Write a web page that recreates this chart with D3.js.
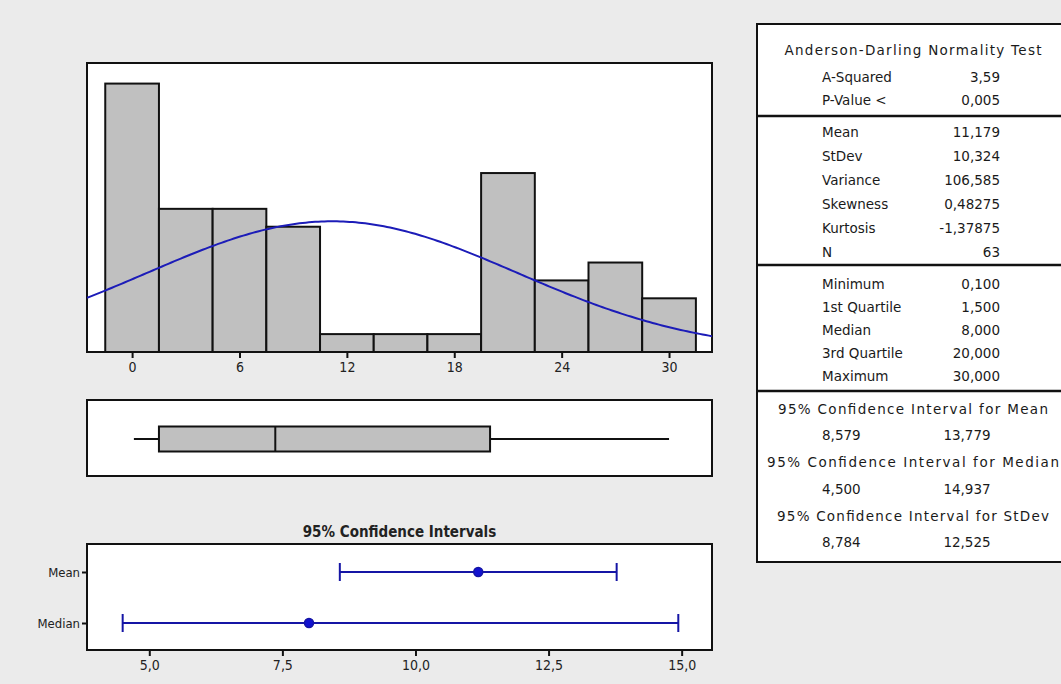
<!DOCTYPE html>
<html>
<head>
<meta charset="utf-8">
<script src="https://cdn.jsdelivr.net/npm/d3@7"></script>
<style>
  body { margin: 0; background: #ebebeb; }
  svg { display: block; }
  .tick-lbl { font-family: "Liberation Sans Narrow", "DejaVu Sans Condensed", sans-serif; font-size: 14px; fill: #222; }
  .tbl { font-family: "DejaVu Sans", Verdana, sans-serif; font-size: 13.5px; fill: #1a1a1a; }
</style>
</head>
<body>
<svg id="vis" width="1061" height="684"></svg>
<script>
// histogram bins (width 3, centred on 0, 3, ... 30)
const binCenters = [0, 3, 6, 9, 12, 15, 18, 21, 24, 27, 30];
const binCounts = [15, 8, 8, 7, 1, 1, 1, 10, 4, 5, 3];
const binWidth = 3;
const histTicks = [0, 6, 12, 18, 24, 30];

// fitted normal
const sampleMean = 11.179;
const sampleSd = 10.324;
const sampleN = 63;

// boxplot: min, Q1, median, Q3, max
const boxStats = [0.1, 1.5, 8.0, 20.0, 30.0];

// 95% confidence intervals plot
const ciNames = ["Mean", "Median"];
const ciPoint = [11.179, 8.0];
const ciLow = [8.579, 4.5];
const ciHigh = [13.779, 14.937];
const ciTicks = [5, 7.5, 10, 12.5, 15];

// summary table
const adLabels = ["A-Squared", "P-Value <"];
const adValues = ["3,59", "0,005"];
const descLabels = ["Mean", "StDev", "Variance", "Skewness", "Kurtosis", "N"];
const descValues = ["11,179", "10,324", "106,585", "0,48275", "-1,37875", "63"];
const quantLabels = ["Minimum", "1st Quartile", "Median", "3rd Quartile", "Maximum"];
const quantValues = ["0,100", "1,500", "8,000", "20,000", "30,000"];
const ciTitles = ["95% Confidence Interval for Mean", "95% Confidence Interval for Median", "95% Confidence Interval for StDev"];
const ciTblLow = ["8,579", "4,500", "8,784"];
const ciTblHigh = ["13,779", "14,937", "12,525"];

const svg = d3.select("svg#vis");
const fmt = d => d.toFixed(1).replace(".", ",");

// ---------- histogram ----------
let hist = { left: 87, right: 712, top: 63, bottom: 352 };

let xHist = d3.scaleLinear()
    .domain([-2.52, 32.4])
    .range([hist.left, hist.right]);

let yHist = d3.scaleLinear()
    .domain([0, 16.15])
    .range([hist.bottom, hist.top]);

svg.append("rect")
    .attr("x", hist.left).attr("y", hist.top)
    .attr("width", hist.right - hist.left).attr("height", hist.bottom - hist.top)
    .attr("fill", "white").attr("stroke", "#111").attr("stroke-width", 2);

svg.append("clipPath").attr("id", "histclip")
    .append("rect")
    .attr("x", hist.left).attr("y", hist.top)
    .attr("width", hist.right - hist.left).attr("height", hist.bottom - hist.top);

svg.append("g").selectAll("rect")
    .data(binCenters)
    .enter()
    .append("rect")
    .attr("x", d => xHist(d - binWidth / 2))
    .attr("width", d => xHist(d + binWidth / 2) - xHist(d - binWidth / 2))
    .attr("y", (d, i) => yHist(binCounts[i]))
    .attr("height", (d, i) => yHist(0) - yHist(binCounts[i]))
    .attr("fill", "#c0c0c0")
    .attr("stroke", "#111")
    .attr("stroke-width", 2);

// normal curve scaled to counts
let curvePts = d3.range(0, 201).map(i => {
    let x = xHist.domain()[0] + i * (xHist.domain()[1] - xHist.domain()[0]) / 200;
    let z = (x - sampleMean) / sampleSd;
    let dens = Math.exp(-0.5 * z * z) / (sampleSd * Math.sqrt(2 * Math.PI));
    return [x, dens * sampleN * binWidth];
});

svg.append("path")
    .attr("clip-path", "url(#histclip)")
    .attr("d", d3.line().x(d => xHist(d[0])).y(d => yHist(d[1]))(curvePts))
    .attr("fill", "none")
    .attr("stroke", "#1c1cb8")
    .attr("stroke-width", 2);

let xAxisHist = d3.axisBottom(xHist).tickValues(histTicks).tickSize(5).tickSizeOuter(0).tickPadding(4);
let gx = svg.append("g")
    .attr("transform", "translate(0," + (hist.bottom + 1) + ")")
    .call(xAxisHist);
gx.select(".domain").remove();
gx.selectAll("line").attr("stroke", "#111").attr("stroke-width", 2);
gx.selectAll("text").attr("class", "tick-lbl").attr("font-size", null).attr("font-family", null).attr("fill", null);

// ---------- boxplot ----------
let bp = { top: 400, bottom: 476, mid: 439, h: 25 };

svg.append("rect")
    .attr("x", hist.left).attr("y", bp.top)
    .attr("width", hist.right - hist.left).attr("height", bp.bottom - bp.top)
    .attr("fill", "white").attr("stroke", "#111").attr("stroke-width", 2);

let gb = svg.append("g").attr("stroke", "#111").attr("stroke-width", 2);
gb.append("line")
    .attr("x1", xHist(boxStats[0])).attr("x2", xHist(boxStats[1]))
    .attr("y1", bp.mid).attr("y2", bp.mid);
gb.append("line")
    .attr("x1", xHist(boxStats[3])).attr("x2", xHist(boxStats[4]))
    .attr("y1", bp.mid).attr("y2", bp.mid);
gb.append("rect")
    .attr("x", xHist(boxStats[1])).attr("width", xHist(boxStats[3]) - xHist(boxStats[1]))
    .attr("y", bp.mid - bp.h / 2).attr("height", bp.h)
    .attr("fill", "#c0c0c0");
gb.append("line")
    .attr("x1", xHist(boxStats[2])).attr("x2", xHist(boxStats[2]))
    .attr("y1", bp.mid - bp.h / 2).attr("y2", bp.mid + bp.h / 2);

// ---------- confidence interval plot ----------
let ci = { left: 87, right: 712, top: 544, bottom: 650 };

let xCi = d3.scaleLinear()
    .domain([3.83, 15.57])
    .range([ci.left, ci.right]);

let yCi = d3.scalePoint()
    .domain(ciNames)
    .range([572, 623]);

svg.append("text")
    .attr("x", (ci.left + ci.right) / 2)
    .attr("y", 537)
    .attr("text-anchor", "middle")
    .attr("font-family", "'DejaVu Sans Condensed', 'Liberation Sans Narrow', sans-serif")
    .attr("font-weight", "bold")
    .attr("font-size", 15)
    .attr("fill", "#222")
    .text("95% Confidence Intervals");

svg.append("rect")
    .attr("x", ci.left).attr("y", ci.top)
    .attr("width", ci.right - ci.left).attr("height", ci.bottom - ci.top)
    .attr("fill", "white").attr("stroke", "#111").attr("stroke-width", 2);

let gci = svg.append("g").attr("stroke", "#1515a5").attr("stroke-width", 2);
ciNames.forEach((name, i) => {
    let y = yCi(name);
    gci.append("line")
        .attr("x1", xCi(ciLow[i])).attr("x2", xCi(ciHigh[i]))
        .attr("y1", y).attr("y2", y);
    gci.append("line")
        .attr("x1", xCi(ciLow[i])).attr("x2", xCi(ciLow[i]))
        .attr("y1", y - 9).attr("y2", y + 9);
    gci.append("line")
        .attr("x1", xCi(ciHigh[i])).attr("x2", xCi(ciHigh[i]))
        .attr("y1", y - 9).attr("y2", y + 9);
    gci.append("circle")
        .attr("cx", xCi(ciPoint[i])).attr("cy", y)
        .attr("r", 4.5)
        .attr("fill", "#1212d0")
        .attr("stroke-width", 1.5);
});

let xAxisCi = d3.axisBottom(xCi).tickValues(ciTicks).tickFormat(fmt).tickSize(5).tickSizeOuter(0).tickPadding(4);
let gxc = svg.append("g")
    .attr("transform", "translate(0," + (ci.bottom + 1) + ")")
    .call(xAxisCi);
gxc.select(".domain").remove();
gxc.selectAll("line").attr("stroke", "#111").attr("stroke-width", 2);
gxc.selectAll("text").attr("class", "tick-lbl").attr("font-size", null).attr("font-family", null).attr("fill", null);

let yAxisCi = d3.axisLeft(yCi).tickSize(4).tickSizeOuter(0).tickPadding(2);
let gyc = svg.append("g")
    .attr("transform", "translate(" + (ci.left - 1) + ",0)")
    .call(yAxisCi);
gyc.select(".domain").remove();
gyc.selectAll("line").attr("stroke", "#111").attr("stroke-width", 2);
gyc.selectAll("text").attr("class", "tick-lbl").attr("font-size", null).attr("font-family", null).attr("fill", null)
    .style("font-size", "13px");

// ---------- summary table ----------
let tbl = { left: 757, top: 24, bottom: 562, labelX: 822, valueX: 1000, center: 913 };

svg.append("rect")
    .attr("x", tbl.left).attr("y", tbl.top)
    .attr("width", 400).attr("height", tbl.bottom - tbl.top)
    .attr("fill", "white").attr("stroke", "#111").attr("stroke-width", 2);

[116, 265, 391].forEach(y => {
    svg.append("line")
        .attr("x1", tbl.left).attr("x2", 1061)
        .attr("y1", y).attr("y2", y)
        .attr("stroke", "#111").attr("stroke-width", 2.5);
});

let gt = svg.append("g").attr("class", "tbl");

function addText(x, y, s, anchor, len) {
    let t = gt.append("text")
        .attr("x", x).attr("y", y)
        .attr("dy", "0.35em")
        .attr("text-anchor", anchor)
        .text(s);
    // headers in the original are spaced a bit wider than the rows
    if (len) t.attr("textLength", len).attr("lengthAdjust", "spacing");
}

addText(tbl.center, 50, "Anderson-Darling Normality Test", "middle", 257);

function addRows(labels, values, y0, step) {
    labels.forEach((lab, i) => {
        addText(tbl.labelX, y0 + i * step, lab, "start");
        addText(tbl.valueX, y0 + i * step, values[i], "end");
    });
}

addRows(adLabels, adValues, 77, 23);
addRows(descLabels, descValues, 132, 24);
addRows(quantLabels, quantValues, 284, 23);

const headerLens = [270, 292, 272];
ciTitles.forEach((t, i) => {
    let y = 409 + i * 53.5;
    addText(tbl.center, y, t, "middle", headerLens[i]);
    addText(tbl.labelX, y + 26.5, ciTblLow[i], "start");
    addText(967, y + 26.5, ciTblHigh[i], "middle");
});
</script>
</body>
</html>
